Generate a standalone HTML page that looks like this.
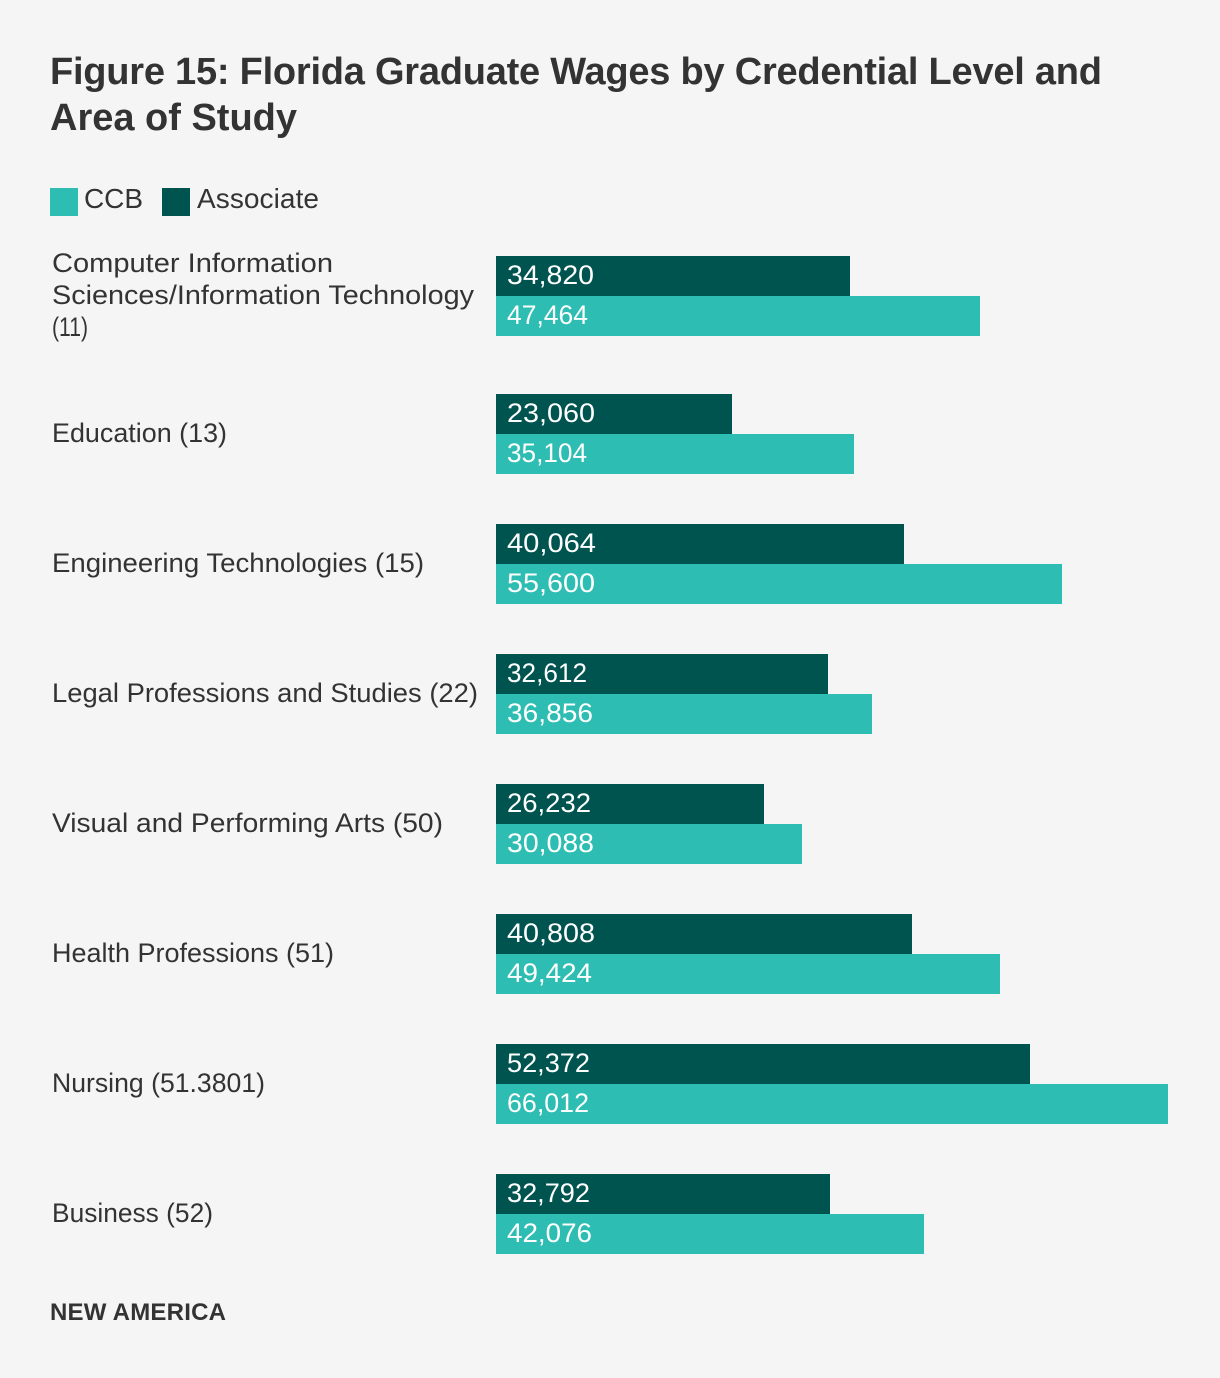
<!DOCTYPE html>
<html lang="en">
<head>
<meta charset="utf-8">
<title>Figure 15: Florida Graduate Wages by Credential Level and Area of Study</title>
<style>
  html, body { margin: 0; padding: 0; background: #f5f5f5; }
  body { width: 1220px; height: 1378px; overflow: hidden; font-family: "Liberation Sans", sans-serif; }
  svg { display: block; }
  text { font-family: "Liberation Sans", sans-serif; }
</style>
</head>
<body>
<svg id="chart" width="1220" height="1378" viewBox="0 0 1220 1378" xmlns="http://www.w3.org/2000/svg">
  <rect x="0" y="0" width="1220" height="1378" fill="#f5f5f5"></rect>
  <text x="50" y="84" font-size="38" font-weight="700" fill="#333333" textLength="1052" lengthAdjust="spacing">Figure 15: Florida Graduate Wages by Credential Level and</text>
  <text x="50" y="130" font-size="38" font-weight="700" fill="#333333" textLength="247" lengthAdjust="spacing">Area of Study</text>

  <g>
    <rect x="50" y="188" width="28" height="28" fill="#2ebdb2"></rect>
    <text x="84" y="208" font-size="28" fill="#333333" textLength="59">CCB</text>
    <rect x="162" y="188" width="28" height="28" fill="#005450"></rect>
    <text x="197" y="208" font-size="28" fill="#333333" textLength="122">Associate</text>
  </g>

  <g id="rows"></g>

  <text x="50" y="1320" font-size="24" font-weight="700" fill="#333333" textLength="176" lengthAdjust="spacing">NEW AMERICA</text>
</svg>
<script>
const categories = [
  ["Computer Information", "Sciences/Information Technology", "(11)"],
  ["Education (13)"],
  ["Engineering Technologies (15)"],
  ["Legal Professions and Studies (22)"],
  ["Visual and Performing Arts (50)"],
  ["Health Professions (51)"],
  ["Nursing (51.3801)"],
  ["Business (52)"]
];
const associateValues = [34820, 23060, 40064, 32612, 26232, 40808, 52372, 32792];
const ccbValues = [47464, 35104, 55600, 36856, 30088, 49424, 66012, 42076];
const associateLabels = ["34,820", "23,060", "40,064", "32,612", "26,232", "40,808", "52,372", "32,792"];
const ccbLabels = ["47,464", "35,104", "55,600", "36,856", "30,088", "49,424", "66,012", "42,076"];

/* Typography fit only: the reference typeface has different advance widths. */
const categoryTextFit = [[281, 422, 36], [175], [372], [426], [391], [282], [213], [161]];
const associateTextFit = [87, 88, 89, 80, 84, 88, 83, 83];
const ccbTextFit = [81, 80, 88, 86, 87, 85, 82, 85];

const SVG_NS = "http://www.w3.org/2000/svg";
const rowsGroup = document.getElementById("rows");
const axisLeft = 496;
const axisWidth = 672;
const axisMax = Math.max(...ccbValues, ...associateValues);
const barHeight = 40;
const firstRowTop = 256;
const rowStep = 130;
const labelLineHeight = 32;
const labelX = 52;
const labelFontSize = 27;

function xScale(value) {
  /* Bars in the reference snap to an even pixel grid. */
  return 2 * Math.round((value / axisMax * axisWidth + 0.5) / 2);
}
function rowExtra(lineCount) {
  return lineCount > 2 ? 8 : 0;
}
function addRect(parent, name, x, y, w, h, fill) {
  const r = document.createElementNS(SVG_NS, "rect");
  r.setAttribute("x", x);
  r.setAttribute("y", y);
  r.setAttribute("width", w);
  r.setAttribute("height", h);
  r.setAttribute("fill", fill);
  
  
  parent.appendChild(r);
  return r;
}
function addText(parent, name, x, y, str, size, fill, fit) {
  const t = document.createElementNS(SVG_NS, "text");
  t.setAttribute("x", x);
  t.setAttribute("y", y);
  t.setAttribute("font-size", size);
  t.setAttribute("fill", fill);
  t.setAttribute("textLength", fit);
  t.setAttribute("lengthAdjust", "spacingAndGlyphs");
  t.textContent = str;
  
  
  parent.appendChild(t);
  return t;
}

let rowTop = firstRowTop;
categories.forEach(function (lines, i) {
  const g = document.createElementNS(SVG_NS, "g");
  
  
  rowsGroup.appendChild(g);

  const centre = rowTop + barHeight;
  const firstBaseline = centre + 8 - (lines.length - 1) * labelLineHeight / 2;
  lines.forEach(function (line, j) {
    addText(g, 'category-label-' + (i + 1) + '-line-' + (j + 1), labelX, firstBaseline + j * labelLineHeight, line, labelFontSize, "#333333", categoryTextFit[i][j]);
  });

  addRect(g, 'bar-associate-' + (i + 1), axisLeft, rowTop, xScale(associateValues[i]), barHeight, "#005450");
  addRect(g, 'bar-ccb-' + (i + 1), axisLeft, rowTop + barHeight, xScale(ccbValues[i]), barHeight, "#2ebdb2");
  addText(g, 'value-associate-' + (i + 1), axisLeft + 11, rowTop + 28, associateLabels[i], 27, "#ffffff", associateTextFit[i]);
  addText(g, 'value-ccb-' + (i + 1), axisLeft + 11, rowTop + barHeight + 28, ccbLabels[i], 27, "#ffffff", ccbTextFit[i]);

  rowTop += rowStep + rowExtra(lines.length);
});
</script>
</body>
</html>
